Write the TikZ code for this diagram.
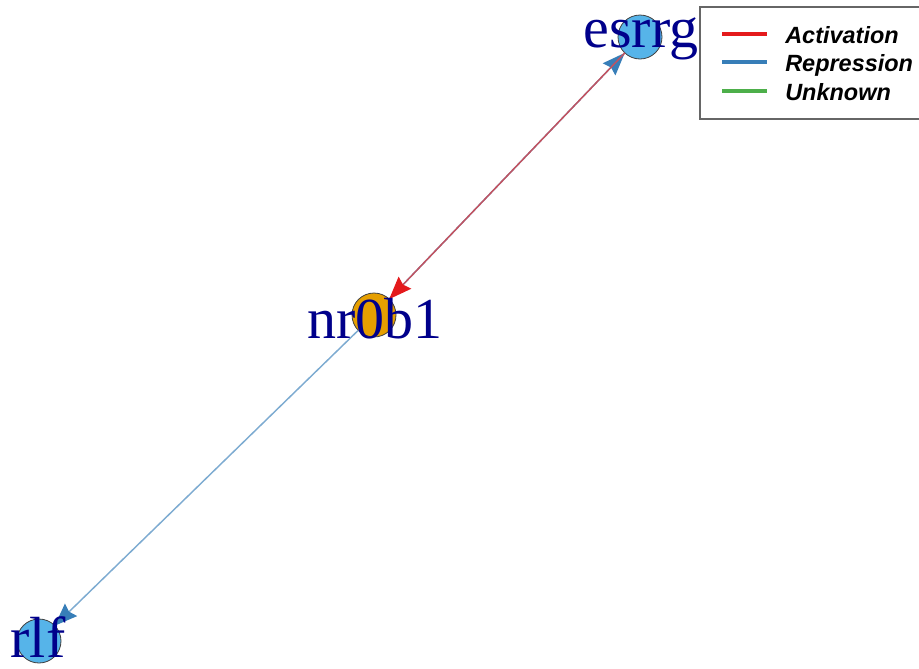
\documentclass[tikz,border=0pt]{standalone}
\usepackage{fontspec}
\setmainfont{Liberation Serif}
\newfontfamily\legendfont{Liberation Sans}
\usetikzlibrary{arrows.meta}
\definecolor{actcol}{HTML}{E41A1C}
\definecolor{repcol}{HTML}{377EB8}
\definecolor{unkcol}{HTML}{4DAF4A}
\definecolor{genecol}{HTML}{56B4E9}
\definecolor{hubcol}{HTML}{E69F00}
\definecolor{labcol}{HTML}{00008B}
\begin{document}
\begin{tikzpicture}[x=0.75pt,y=-0.75pt,
   gene/.style={circle,draw=black!75,line width=0.6pt,minimum size=33pt,inner sep=0pt,outer sep=0pt},
   glabel/.style={anchor=base,text=labcol,inner sep=0pt,font=\fontsize{43.5}{50}\selectfont},
   edge/.style={line width=1.1pt},
   tip/.style={-{Stealth[length=17pt,width=13pt,inset=2pt,color=#1]}}]
   \useasboundingbox (0,0) rectangle (919,668);
   % genes
   \node[gene,fill=genecol] (esrrg) at (640,37) {};
   \node[gene,fill=hubcol]  (nr0b1) at (374,315) {};
   \node[gene,fill=genecol] (rlf)   at (39,641) {};
   % interactions
   \draw[edge,repcol!70!white,tip=repcol] (nr0b1) -- (esrrg);
   \draw[edge,actcol!75!repcol!85!white,tip=actcol] (esrrg) -- (nr0b1);
   \draw[edge,repcol!65!white,tip=repcol] (nr0b1) -- (rlf);
   % labels
   \foreach \n/\x/\y in {esrrg/641/47, nr0b1/375/338, rlf/38/657}
     \node[glabel] (lab\n) at (\x,\y) {\n};
   % legend
   \draw[draw=black!60,line width=1.2pt,fill=white] (700,7) rectangle (930,119);
   \foreach \y/\c/\t in
     { 34/actcol/Activation,
       62/repcol/Repression,
       91/unkcol/Unknown
     }
     {
     \draw[\c,line width=2.8pt] (722,\y) -- (767,\y);
     \node[anchor=base west,inner sep=0pt,font=\legendfont\bfseries\itshape\fontsize{17.6}{20}\selectfont] (leg\t) at (785,\y+9) {\t};
     }
\end{tikzpicture}
\end{document}
